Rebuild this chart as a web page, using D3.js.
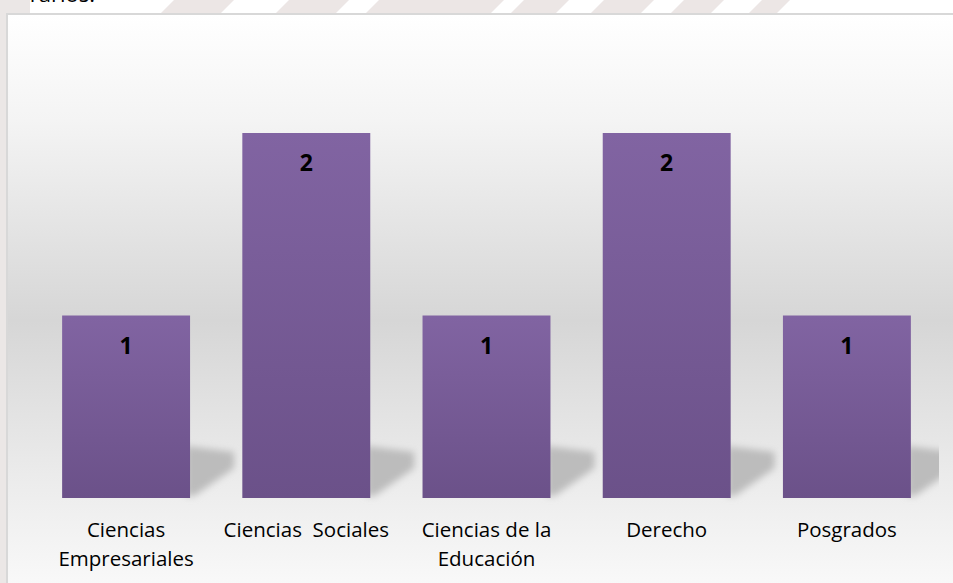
<!DOCTYPE html>
<html>
<head>
<meta charset="utf-8">
<script src="https://cdn.jsdelivr.net/npm/d3@7"></script>
<style>
  html, body { margin: 0; padding: 0; background: #fff; }
  svg { display: block; }
</style>
</head>
<body>
<svg width="953" height="583"></svg>
<script>
// chart data
var categories = [
  ['Ciencias', 'Empresariales'],
  ['Ciencias  Sociales'],
  ['Ciencias de la', 'Educación'],
  ['Derecho'],
  ['Posgrados']
];
var values = [1, 2, 1, 2, 1];

var svg = d3.select('svg');
var defs = svg.append('defs');

// page background + faint watermark stripes above the chart box
svg.append('rect')
  .attr('width', 953).attr('height', 583)
  .attr('fill', '#ffffff');
svg.append('rect')
  .attr('x', 0).attr('y', 0).attr('width', 8).attr('height', 583)
  .attr('fill', '#ebe7e6');
svg.append('rect')
  .attr('x', 0).attr('y', 0).attr('width', 30).attr('height', 14)
  .attr('fill', '#ebe7e6');
var stripes = [[160, 60], [275, 60], [365, 40], [400, 90], [510, 45], [590, 50], [670, 40], [748, 28]];
svg.append('g').selectAll('path')
  .data(stripes)
  .enter().append('path')
  .attr('d', function(d) {
    return 'M' + d[0] + ',14 L' + (d[0] + d[1]) + ',14 L' + (d[0] + d[1] + 14) + ',0 L' + (d[0] + 14) + ',0 Z';
  })
  .attr('fill', '#ece6e5');

// text line from the page, cut off at the top as in the source
svg.append('text')
  .attr('x', 95).attr('y', 2)
  .attr('text-anchor', 'end')
  .attr('font-family', 'Open Sans, sans-serif')
  .attr('font-size', 22)
  .attr('fill', '#000')
  .text('rarios.');

// chart box
var bg = defs.append('linearGradient')
  .attr('id', 'bg').attr('x1', 0).attr('y1', 0).attr('x2', 0).attr('y2', 1);
bg.append('stop').attr('offset', '0').attr('stop-color', '#ffffff');
bg.append('stop').attr('offset', '0.18').attr('stop-color', '#f4f4f4');
bg.append('stop').attr('offset', '0.52').attr('stop-color', '#d6d6d6');
bg.append('stop').attr('offset', '0.78').attr('stop-color', '#ebebeb');
bg.append('stop').attr('offset', '1').attr('stop-color', '#fbfbfb');

svg.append('rect')
  .attr('x', 7).attr('y', 14)
  .attr('width', 960).attr('height', 590)
  .attr('fill', 'url(#bg)')
  .attr('stroke', '#d8d8d8')
  .attr('stroke-width', 2);

var barGrad = defs.append('linearGradient')
  .attr('id', 'bar').attr('x1', 0).attr('y1', 0).attr('x2', 0).attr('y2', 1);
barGrad.append('stop').attr('offset', '0').attr('stop-color', '#8164a2');
barGrad.append('stop').attr('offset', '1').attr('stop-color', '#6b5189');

var blur = defs.append('filter').attr('id', 'blur')
  .attr('x', '-20%').attr('y', '-20%').attr('width', '140%').attr('height', '140%');
blur.append('feGaussianBlur').attr('stdDeviation', 3.5);

defs.append('clipPath').attr('id', 'plotClip')
  .append('rect').attr('x', 36).attr('y', 30).attr('width', 903).attr('height', 480);

var x = d3.scaleBand()
  .domain(d3.range(values.length))
  .range([36, 937])
  .paddingInner(0.29)
  .paddingOuter(0.145);

var y = d3.scaleLinear()
  .domain([0, 2.5])
  .range([498, 41.75]);

var g = svg.append('g');

// floor shadows behind each bar
g.append('g')
  .attr('clip-path', 'url(#plotClip)')
  .selectAll('path')
  .data(values)
  .enter().append('path')
  .attr('d', function(d, i) {
    var bx = x(i) + x.bandwidth();
    var b = y(0);
    return 'M' + (bx - 4) + ',' + (b - 52) +
      ' L' + (bx + 44) + ',' + (b - 46) +
      ' L' + (bx + 44) + ',' + (b - 30) +
      ' L' + (bx + 4) + ',' + (b - 2) +
      ' L' + (bx - 4) + ',' + (b - 2) + ' Z';
  })
  .attr('fill', '#bcbcbc')
  .attr('filter', 'url(#blur)');

g.selectAll('rect.bar')
  .data(values)
  .enter().append('rect')
  .attr('class', 'bar')
  .attr('x', function(d, i) { return x(i); })
  .attr('y', function(d) { return y(d); })
  .attr('width', x.bandwidth())
  .attr('height', function(d) { return y(0) - y(d); })
  .attr('fill', 'url(#bar)');

g.selectAll('text.val')
  .data(values)
  .enter().append('text')
  .attr('class', 'val')
  .attr('x', function(d, i) { return x(i) + x.bandwidth() / 2; })
  .attr('y', function(d) { return y(d) + 38; })
  .attr('text-anchor', 'middle')
  .attr('font-family', 'Open Sans, sans-serif')
  .attr('font-weight', 'bold')
  .attr('font-size', 23)
  .attr('fill', '#000')
  .text(function(d) { return d; });

// category labels
var labels = g.selectAll('text.cat')
  .data(categories)
  .enter().append('text')
  .attr('class', 'cat')
  .attr('text-anchor', 'middle')
  .attr('font-family', 'Open Sans, sans-serif')
  .attr('font-size', 20.5)
  .attr('fill', '#000')
  .style('white-space', 'pre')
  .attr('transform', function(d, i) {
    return 'translate(' + (x(i) + x.bandwidth() / 2) + ',537)';
  });

labels.selectAll('tspan')
  .data(function(d) { return d; })
  .enter().append('tspan')
  .attr('x', 0)
  .attr('y', function(d, i) { return i * 29; })
  .text(function(d) { return d; });
</script>
</body>
</html>
